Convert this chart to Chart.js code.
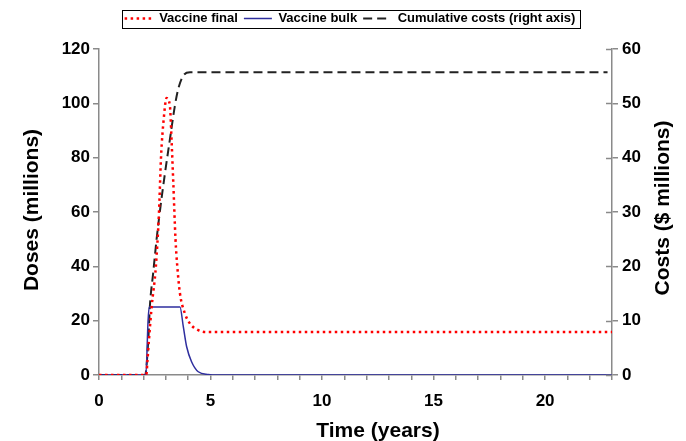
<!DOCTYPE html>
<html lang="en">
<head>
    <meta charset="UTF-8">
    <title>Vaccine doses and costs</title>
    <style>
        body {
            margin: 0;
            background: #ffffff;
        }
        .chart-container {
            width: 686px;
            height: 441px;
        }
    </style>
</head>
<body>
    <div class="chart-container">
        <canvas id="graficoVacina"></canvas>
    </div>

    <script src="https://cdn.jsdelivr.net/npm/chart.js"></script>
    <script>
        // Valores
        const finalTempo = [0, 2.12, 2.17, 2.24, 2.36, 2.55, 2.69, 2.78, 2.91, 3.03, 3.18, 3.25, 3.33, 3.43, 3.51, 3.63, 3.85, 4.07, 4.45, 4.8, 23];
        const finalDoses = [0, 0, 5, 13, 25, 40, 60, 80, 95, 102, 99, 87, 71, 50, 40, 30, 22.7, 19, 16.5, 15.8, 15.8];

        const bulkTempo = [0, 2.1, 2.2, 2.25, 3.63, 3.78, 3.93, 4.15, 4.45, 4.9, 5.3, 23];
        const bulkDoses = [0, 0, 20, 25, 25, 17.8, 10.4, 4.9, 1.2, 0.2, 0, 0];

        const custoTempo = [0, 2.07, 2.21, 2.28, 2.43, 2.58, 2.76, 2.96, 3.18, 3.4, 3.55, 3.78, 4.08, 4.5, 22.8];
        const custoValor = [0, 0, 6.5, 12.6, 18.8, 24.9, 31.1, 37.2, 43.4, 49.5, 52.6, 55.1, 55.7, 55.7, 55.7];

        const rotulos = ['Vaccine final', 'Vaccine bulk', 'Cumulative costs (right axis)'];

        const pontos = (xs, ys) => xs.map((x, i) => ({ x: x, y: ys[i] }));
        const fonte = 'Liberation Sans, Arial, sans-serif';
        const cinza = '#8a8a8a';

        // Títulos dos eixos e moldura da legenda
        const extras = {
            id: 'extras',
            beforeLayout(chart) {
                const lg = chart.legend;
                if (lg && !lg._ajustado) {
                    const fit = lg.fit;
                    lg.fit = function () { fit.call(this); this.height += 14; };
                    lg._ajustado = true;
                }
            },
            afterDraw(chart) {
                const ctx = chart.ctx;
                const area = chart.chartArea;
                ctx.save();

                // marcas internas do eixo direito
                const y2 = chart.scales.y2;
                ctx.strokeStyle = cinza;
                ctx.lineWidth = 1.5;
                y2.ticks.forEach(t => {
                    const py = Math.round(y2.getPixelForValue(t.value)) + 0.5;
                    ctx.beginPath();
                    ctx.moveTo(area.right - 6, py);
                    ctx.lineTo(area.right, py);
                    ctx.stroke();
                });

                // moldura da legenda
                const caixas = chart.legend.legendHitBoxes;
                if (caixas.length) {
                    const esq = caixas[0].left - 3;
                    const ult = caixas[caixas.length - 1];
                    const dir = ult.left + ult.width + 4;
                    ctx.strokeStyle = '#000';
                    ctx.lineWidth = 1;
                    ctx.strokeRect(Math.round(esq) + 0.5, 10.5, Math.round(dir - esq), 18);
                }

                ctx.fillStyle = '#000';
                ctx.font = 'bold 21px ' + fonte;
                ctx.textAlign = 'center';
                ctx.textBaseline = 'middle';
                ctx.fillText('Time (years)', 378, 431);

                ctx.translate(32, 210);
                ctx.rotate(-Math.PI / 2);
                ctx.fillText('Doses (millions)', 0, 0);
                ctx.restore();

                ctx.save();
                ctx.fillStyle = '#000';
                ctx.font = 'bold 21px ' + fonte;
                ctx.textAlign = 'center';
                ctx.textBaseline = 'middle';
                ctx.translate(663, 208);
                ctx.rotate(-Math.PI / 2);
                ctx.fillText('Costs ($ millions)', 0, 0);
                ctx.restore();
            }
        };

        const ctxVacina = document.getElementById('graficoVacina').getContext('2d');
        const graficoVacina = new Chart(ctxVacina, {
            type: 'scatter',
            data: {
                datasets: [{
                    label: rotulos[0],
                    data: pontos(finalTempo, finalDoses),
                    showLine: true,
                    cubicInterpolationMode: 'monotone',
                    borderColor: '#ff0000',
                    borderWidth: 2.5,
                    borderDash: [2.5, 3.5],
                    pointRadius: 0,
                    yAxisID: 'y'
                }, {
                    label: rotulos[1],
                    data: pontos(bulkTempo, bulkDoses),
                    showLine: true,
                    cubicInterpolationMode: 'monotone',
                    borderColor: '#2e2e9e',
                    borderWidth: 1.5,
                    pointRadius: 0,
                    yAxisID: 'y'
                }, {
                    label: rotulos[2],
                    data: pontos(custoTempo, custoValor),
                    showLine: true,
                    cubicInterpolationMode: 'monotone',
                    borderColor: '#222222',
                    borderWidth: 2,
                    borderDash: [9, 5],
                    pointRadius: 0,
                    yAxisID: 'y2'
                }]
            },
            options: {
                responsive: true,
                maintainAspectRatio: false,
                animation: false,
                layout: { padding: { top: 6, left: 14, right: 0, bottom: 0 } },
                plugins: {
                    tooltip: { enabled: false },
                    legend: {
                        position: 'top',
                        labels: {
                            usePointStyle: true,
                            pointStyle: 'line',
                            pointStyleWidth: 28,
                            padding: 6,
                            color: '#000',
                            font: { family: fonte, size: 13, weight: 'bold' },
                            generateLabels: chart => {
                                const itens = Chart.defaults.plugins.legend.labels.generateLabels(chart);
                                itens.forEach(item => {
                                    const ds = chart.data.datasets[item.datasetIndex];
                                    item.lineDash = ds.borderDash || [];
                                    item.lineWidth = ds.borderWidth;
                                    item.strokeStyle = ds.borderColor;
                                });
                                return itens;
                            }
                        }
                    }
                },
                scales: {
                    x: {
                        type: 'linear',
                        min: 0,
                        max: 23,
                        afterFit: s => { s.height = 66; },
                        ticks: {
                            stepSize: 1,
                            autoSkip: false,
                            maxRotation: 0,
                            padding: 11,
                            color: '#000',
                            font: { family: fonte, size: 17, weight: 'bold' },
                            callback: v => (v % 5 === 0 && v <= 20) ? v : ''
                        },
                        grid: { drawOnChartArea: false, tickLength: 5, color: cinza, lineWidth: 1.5 },
                        border: { color: cinza, width: 1.5 }
                    },
                    y: {
                        position: 'left',
                        min: 0,
                        max: 120,
                        afterFit: s => { s.width = 85; },
                        ticks: {
                            stepSize: 20,
                            padding: 3,
                            color: '#000',
                            font: { family: fonte, size: 17, weight: 'bold' }
                        },
                        grid: { drawOnChartArea: false, tickLength: 6, color: cinza, lineWidth: 1.5 },
                        border: { color: cinza, width: 1.5 }
                    },
                    y2: {
                        position: 'right',
                        min: 0,
                        max: 60,
                        afterFit: s => { s.width = 74; },
                        ticks: {
                            stepSize: 10,
                            padding: 4,
                            color: '#000',
                            font: { family: fonte, size: 17, weight: 'bold' }
                        },
                        grid: { drawOnChartArea: false, tickLength: 6, color: cinza, lineWidth: 1.5 },
                        border: { color: cinza, width: 1.5 }
                    }
                }
            },
            plugins: [extras]
        });
    </script>
</body>
</html>
